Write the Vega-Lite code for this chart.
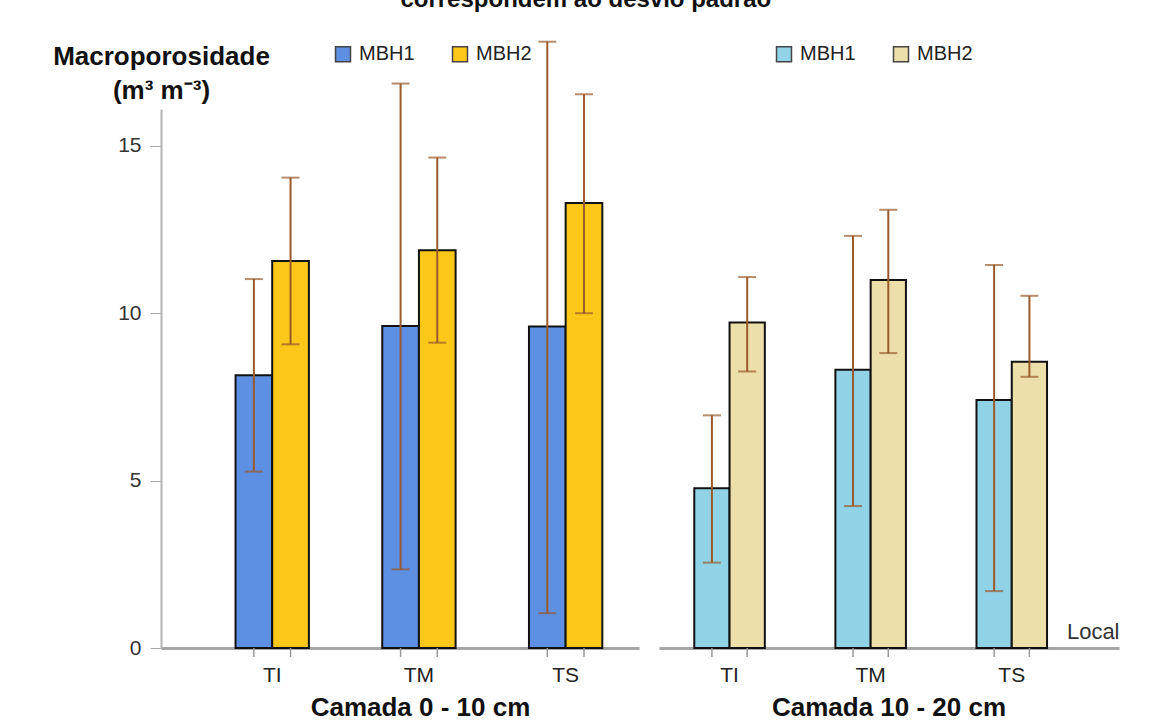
{
  "$schema": "https://vega.github.io/schema/vega-lite/v6.json",
  "background": "white",
  "padding": {"left": 52, "top": -13, "right": 5, "bottom": 5},
  "title": {"text": "correspondem ao desvio padrão", "fontSize": 24, "fontWeight": "bold", "font": "Liberation Sans", "color": "#111", "anchor": "middle", "offset": 29},
  "datasets": {
    "d": [
      {"camada": "0 - 10 cm", "local": "TI", "mbh": "MBH1", "media": 8.15, "inf": 5.27, "sup": 11.02},
      {"camada": "0 - 10 cm", "local": "TI", "mbh": "MBH2", "media": 11.56, "inf": 9.07, "sup": 14.05},
      {"camada": "0 - 10 cm", "local": "TM", "mbh": "MBH1", "media": 9.62, "inf": 2.35, "sup": 16.86},
      {"camada": "0 - 10 cm", "local": "TM", "mbh": "MBH2", "media": 11.88, "inf": 9.12, "sup": 14.65},
      {"camada": "0 - 10 cm", "local": "TS", "mbh": "MBH1", "media": 9.6, "inf": 1.04, "sup": 18.11},
      {"camada": "0 - 10 cm", "local": "TS", "mbh": "MBH2", "media": 13.29, "inf": 10.0, "sup": 16.54},
      {"camada": "10 - 20 cm", "local": "TI", "mbh": "MBH1", "media": 4.77, "inf": 2.55, "sup": 6.95},
      {"camada": "10 - 20 cm", "local": "TI", "mbh": "MBH2", "media": 9.72, "inf": 8.26, "sup": 11.08},
      {"camada": "10 - 20 cm", "local": "TM", "mbh": "MBH1", "media": 8.31, "inf": 4.24, "sup": 12.31},
      {"camada": "10 - 20 cm", "local": "TM", "mbh": "MBH2", "media": 10.99, "inf": 8.81, "sup": 13.09},
      {"camada": "10 - 20 cm", "local": "TS", "mbh": "MBH1", "media": 7.41, "inf": 1.7, "sup": 11.44},
      {"camada": "10 - 20 cm", "local": "TS", "mbh": "MBH2", "media": 8.55, "inf": 8.1, "sup": 10.52}
    ]
  },
  "data": {"name": "d"},
  "spacing": 20,
  "resolve": {"scale": {"color": "independent", "x": "independent", "xOffset": "independent", "y": "independent"}, "legend": {"color": "independent"}},
  "hconcat": [
    {
      "width": 478,
      "height": 539,
      "transform": [{"filter": "datum.camada == '0 - 10 cm'"}],
      "encoding": {
        "x": {"field": "local", "type": "nominal", "sort": ["TI", "TM", "TS"],
          "scale": {"paddingInner": 0, "paddingOuter": 0.129, "align": 1},
          "axis": {"title": "Camada 0 - 10 cm", "titleFontSize": 26, "titleFontWeight": "bold", "titleColor": "#111", "titleX": 259, "titlePadding": 9,
            "labelFontSize": 21, "labelColor": "#222", "labelPadding": 16, "labelAngle": 0, "ticks": false, "domainColor": "#a6a6a6", "domainWidth": 3}},
        "xOffset": {"field": "mbh", "type": "nominal", "scale": {"paddingInner": 0, "paddingOuter": 1.16}}
      },
      "layer": [
        {
          "mark": {"type": "bar", "stroke": "#111", "strokeWidth": 2},
          "encoding": {
            "y": {"field": "media", "type": "quantitative", "scale": {"domain": [0, 16.1], "nice": false},
              "axis": {"values": [0, 5, 10, 15], "title": ["Macroporosidade", "(m³ m⁻³)"], "titleAngle": 0, "titleAlign": "center", "titleBaseline": "alphabetic",
                "titleX": 0, "titleY": -45, "titleFontSize": 26, "titleFontWeight": "bold", "titleColor": "#111", "titleLineHeight": 34,
                "labelFontSize": 21, "labelColor": "#333", "tickSize": 11, "tickColor": "#aaa", "domainColor": "#b5b5b5", "domainWidth": 2, "labelPadding": 9, "grid": false}},
            "color": {"field": "mbh", "type": "nominal", "scale": {"domain": ["MBH1", "MBH2"], "range": ["#5d8fe3", "#fbc81a"]},
              "legend": {"orient": "none", "legendX": 172, "legendY": -65, "direction": "horizontal", "title": null, "symbolType": "square", "symbolSize": 225,
                "symbolStrokeColor": "#444", "symbolStrokeWidth": 1.5, "labelFontSize": 20, "labelColor": "#222", "columnPadding": 34, "labelOffset": 6}}
          }
        },
        {
          "mark": {"type": "rule", "color": "#9a5a2c", "strokeWidth": 2},
          "encoding": {"y": {"field": "inf", "type": "quantitative"}, "y2": {"field": "sup"}}
        },
        {
          "mark": {"type": "tick", "color": "#9a5a2c", "size": 18, "thickness": 2},
          "encoding": {"y": {"field": "inf", "type": "quantitative"}}
        },
        {
          "mark": {"type": "tick", "color": "#9a5a2c", "size": 18, "thickness": 2},
          "encoding": {"y": {"field": "sup", "type": "quantitative"}}
        },
        {
          "mark": {"type": "rule", "color": "#999999", "strokeWidth": 1.5},
          "encoding": {"y": {"datum": 0}, "y2": {"datum": -0.27}}
        }
      ]
    },
    {
      "width": 460,
      "height": 539,
      "transform": [{"filter": "datum.camada == '10 - 20 cm'"}],
      "title": {"text": "Camada 10 - 20 cm", "orient": "bottom", "fontSize": 26, "fontWeight": "bold", "color": "#111", "offset": 10},
      "encoding": {
        "x": {"field": "local", "type": "nominal", "sort": ["TI", "TM", "TS"],
          "scale": {"paddingInner": 0, "paddingOuter": 0.13, "align": 0},
          "axis": {"title": "Local", "titleX": 460, "titleY": -10, "titleAlign": "right", "titleBaseline": "alphabetic", "titleFontSize": 22, "titleFontWeight": "normal", "titleColor": "#333",
            "labelFontSize": 21, "labelColor": "#222", "labelPadding": 16, "labelAngle": 0, "ticks": false, "domainColor": "#a6a6a6", "domainWidth": 3}},
        "xOffset": {"field": "mbh", "type": "nominal", "scale": {"paddingInner": 0, "paddingOuter": 1.075}}
      },
      "layer": [
        {
          "mark": {"type": "bar", "stroke": "#111", "strokeWidth": 2},
          "encoding": {
            "y": {"field": "media", "type": "quantitative", "scale": {"domain": [0, 16.1], "nice": false}, "axis": null},
            "color": {"field": "mbh", "type": "nominal", "scale": {"domain": ["MBH1", "MBH2"], "range": ["#90d2e6", "#ecdfa9"]},
              "legend": {"orient": "none", "legendX": 115, "legendY": -65, "direction": "horizontal", "title": null, "symbolType": "square", "symbolSize": 225,
                "symbolStrokeColor": "#444", "symbolStrokeWidth": 1.5, "labelFontSize": 20, "labelColor": "#222", "columnPadding": 34, "labelOffset": 6}}
          }
        },
        {
          "mark": {"type": "rule", "color": "#9a5a2c", "strokeWidth": 2},
          "encoding": {"y": {"field": "inf", "type": "quantitative"}, "y2": {"field": "sup"}}
        },
        {
          "mark": {"type": "tick", "color": "#9a5a2c", "size": 18, "thickness": 2},
          "encoding": {"y": {"field": "inf", "type": "quantitative"}}
        },
        {
          "mark": {"type": "tick", "color": "#9a5a2c", "size": 18, "thickness": 2},
          "encoding": {"y": {"field": "sup", "type": "quantitative"}}
        },
        {
          "mark": {"type": "rule", "color": "#999999", "strokeWidth": 1.5},
          "encoding": {"y": {"datum": 0}, "y2": {"datum": -0.27}}
        }
      ]
    }
  ],
  "config": {
    "font": "Liberation Sans",
    "view": {"stroke": null}
  }
}
